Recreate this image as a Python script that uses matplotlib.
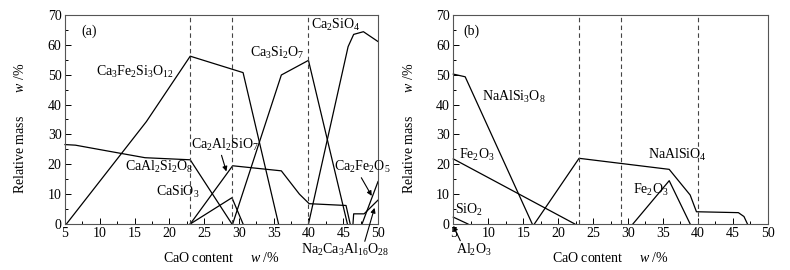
import matplotlib
matplotlib.use("Agg")
import matplotlib.pyplot as plt
from matplotlib.ticker import MultipleLocator

plt.rcParams['font.family'] = ['Liberation Serif', 'DejaVu Serif']
plt.rcParams['mathtext.fontset'] = 'custom'
plt.rcParams['mathtext.rm'] = 'Liberation Serif'
plt.rcParams['mathtext.it'] = 'Liberation Serif:italic'
plt.rcParams['mathtext.bf'] = 'Liberation Serif:bold'
plt.rcParams['font.size'] = 10

# ---------------- data: panel (a) ----------------
a_Ca3Fe2Si3O12_x = [5.2, 16.7, 23.0, 30.6, 35.7]
a_Ca3Fe2Si3O12_y = [0, 34.3, 56.2, 50.7, 0]
a_CaAl2Si2O8_x = [5.0, 6.5, 11.0, 16.5, 23.0, 29.0]
a_CaAl2Si2O8_y = [26.6, 26.4, 24.5, 22.2, 21.5, 0]
a_Ca2Al2SiO7_x = [23.0, 29.1, 36.1, 38.7, 40.1, 45.4, 46.0]
a_Ca2Al2SiO7_y = [0, 19.5, 17.8, 10.0, 6.8, 6.2, 0]
a_CaSiO3_x = [23.0, 29.0, 30.6]
a_CaSiO3_y = [0, 8.8, 0]
a_Ca3Si2O7_x = [29.1, 36.1, 40.0, 45.6]
a_Ca3Si2O7_y = [0, 49.9, 54.8, 0]
a_Ca2SiO4_x = [40.0, 45.7, 46.5, 47.9, 50.0]
a_Ca2SiO4_y = [0, 59.4, 63.5, 64.4, 61.1]
a_Ca2Fe2O5_x = [47.7, 50.0]
a_Ca2Fe2O5_y = [0, 14.2]
a_Na2Ca3Al16O28_x = [46.4, 46.5, 48.0, 50.0]
a_Na2Ca3Al16O28_y = [0, 3.4, 3.4, 8.0]
a_dashed = [23.0, 29.0, 40.0]

# ---------------- data: panel (b) ----------------
b_NaAlSi3O8_x = [5.0, 6.7, 16.3]
b_NaAlSi3O8_y = [50.2, 49.3, 0]
b_Fe2O3_1_x = [5.0, 22.4]
b_Fe2O3_1_y = [21.8, 0]
b_SiO2_x = [5.0, 7.1]
b_SiO2_y = [2.3, 0]
b_NaAlSiO4_x = [16.6, 23.0, 35.9, 38.9, 39.8, 45.8, 46.6, 47.1]
b_NaAlSiO4_y = [0, 22.0, 18.3, 9.7, 4.1, 3.8, 2.5, 0]
b_Fe2O3_2_x = [30.7, 35.9, 38.9]
b_Fe2O3_2_y = [0, 14.5, 0]
b_dashed = [23.0, 29.0, 40.0]

x_ticks = [5, 10, 15, 20, 25, 30, 35, 40, 45, 50]
y_ticks = [0, 10, 20, 30, 40, 50, 60, 70]

fig = plt.figure(figsize=(7.9, 2.7), dpi=100)
axa = fig.add_axes([0.0823, 0.1704, 0.3962, 0.7741])
axb = fig.add_axes([0.5738, 0.1704, 0.3980, 0.7741])

lw = 0.9
for ax in (axa, axb):
    ax.set_xlim(5, 50)
    ax.set_ylim(0, 70)
    ax.set_xticks(x_ticks)
    ax.set_yticks(y_ticks)
    ax.xaxis.set_minor_locator(MultipleLocator(2.5))
    ax.yaxis.set_minor_locator(MultipleLocator(5))
    ax.tick_params(which='both', direction='in', top=False, right=False, labelsize=10, pad=2.5)
    ax.tick_params(which='major', length=4, width=0.7)
    ax.tick_params(which='minor', length=2, width=0.7)
    for s in ax.spines.values():
        s.set_linewidth(0.8)
        s.set_color('#555555')
    ax.set_xlabel('CaO content     $w$ /%', fontsize=10)
    ax.xaxis.set_label_coords(0.5, -0.13)
    ax.set_ylabel('Relative mass       $w$ /%', fontsize=10)
    ax.yaxis.set_label_coords(-0.12, 0.46)

# panel (a)
for xs, ys in [(a_Ca3Fe2Si3O12_x, a_Ca3Fe2Si3O12_y), (a_CaAl2Si2O8_x, a_CaAl2Si2O8_y),
               (a_Ca2Al2SiO7_x, a_Ca2Al2SiO7_y), (a_CaSiO3_x, a_CaSiO3_y),
               (a_Ca3Si2O7_x, a_Ca3Si2O7_y), (a_Ca2SiO4_x, a_Ca2SiO4_y),
               (a_Ca2Fe2O5_x, a_Ca2Fe2O5_y), (a_Na2Ca3Al16O28_x, a_Na2Ca3Al16O28_y)]:
    axa.plot(xs, ys, color='black', lw=lw, clip_on=False)
for xd in a_dashed:
    axa.axvline(xd, color='#444444', lw=0.8, ls=(0, (4, 3)))

axa.text(7.3, 64.5, '(a)', ha='left', va='center')
axa.text(15.0, 51, 'Ca$_3$Fe$_2$Si$_3$O$_{12}$', ha='center', va='center')
axa.text(35.5, 57.2, 'Ca$_3$Si$_2$O$_7$', ha='center', va='center')
axa.text(43.9, 66.6, 'Ca$_2$SiO$_4$', ha='center', va='center')
axa.text(18.5, 19.2, 'CaAl$_2$Si$_2$O$_8$', ha='center', va='center')
axa.text(28.0, 26.5, 'Ca$_2$Al$_2$SiO$_7$', ha='center', va='center')
axa.text(21.2, 10.8, 'CaSiO$_3$', ha='center', va='center')
axa.text(47.7, 19.2, 'Ca$_2$Fe$_2$O$_5$', ha='center', va='center', clip_on=False)
axa.text(45.3, -8.8, 'Na$_2$Ca$_3$Al$_{16}$O$_{28}$', ha='center', va='center', clip_on=False)
arrow = dict(arrowstyle='-|>', color='black', lw=0.8, mutation_scale=7, shrinkA=0, shrinkB=0)
axa.annotate('', xy=(28.2, 17.6), xytext=(27.5, 23.0), arrowprops=arrow)
axa.annotate('', xy=(49.1, 9.4), xytext=(47.6, 15.5), arrowprops=arrow, annotation_clip=False)
axa.annotate('', xy=(49.5, 5.4), xytext=(48.1, -5.8), arrowprops=arrow, annotation_clip=False)

# panel (b)
for xs, ys in [(b_NaAlSi3O8_x, b_NaAlSi3O8_y), (b_Fe2O3_1_x, b_Fe2O3_1_y),
               (b_SiO2_x, b_SiO2_y), (b_NaAlSiO4_x, b_NaAlSiO4_y),
               (b_Fe2O3_2_x, b_Fe2O3_2_y)]:
    axb.plot(xs, ys, color='black', lw=lw, clip_on=False)
for xd in b_dashed:
    axb.axvline(xd, color='#444444', lw=0.8, ls=(0, (4, 3)))

axb.text(6.4, 64.5, '(b)', ha='left', va='center')
axb.text(13.7, 42.6, 'NaAlSi$_3$O$_8$', ha='center', va='center')
axb.text(8.4, 23.1, 'Fe$_2$O$_3$', ha='center', va='center')
axb.text(7.3, 4.7, 'SiO$_2$', ha='center', va='center')
axb.text(7.9, -8.6, 'Al$_2$O$_3$', ha='center', va='center', clip_on=False)
axb.text(37.0, 23.1, 'NaAlSiO$_4$', ha='center', va='center')
axb.text(33.3, 11.4, 'Fe$_2$O$_3$', ha='center', va='center')
axb.annotate('', xy=(5.0, -0.6), xytext=(6.0, -5.6), arrowprops=arrow, annotation_clip=False)

fig.savefig('out.png', dpi=100)
